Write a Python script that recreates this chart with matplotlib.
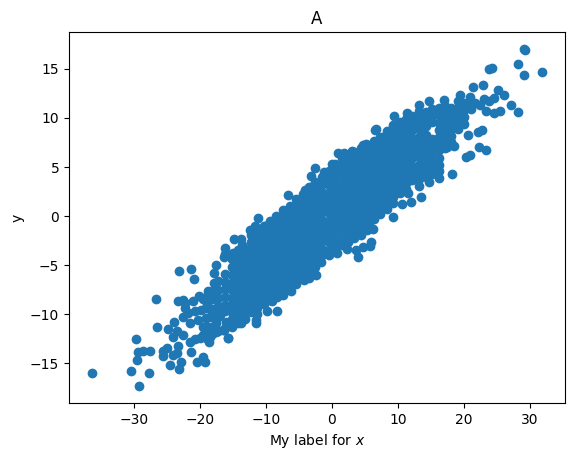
import matplotlib
matplotlib.use('Agg')
import matplotlib.pyplot as plt

# Points: lower left tail
tail_x = [-36.43, -30.44, -27.74, -29.21, -29.51, -29.7, -29.41, -28.63, -27.55, -26.67, -26.47, -23.14, -21.37, -20.88,
          -24.51, -23.14, -22.84, -25.59, -25.59, -25.0, -24.12, -23.33, -23.43, -21.37, -20.44, -19.22, -19.51, -24.8,
          -24.12, -23.43, -22.55, -23.92, -22.55, -23.33, -22.55, -22.26, -21.47, -20.69, -18.63, -19.51, -15.79, -21.47,
          -20.69, -21.08, -20.1, -18.78, -17.85, -17.85, -17.55, -16.18, -14.81, -16.18, -15.0]
tail_y = [-15.95, -15.75, -15.95, -17.3, -14.6, -12.5, -13.8, -13.7, -13.7, -8.4, -11.25, -5.55, -5.35, -6.35,
          -15.2, -15.55, -14.9, -13.7, -14.2, -13.4, -14.1, -13.2, -13.9, -13.8, -14.9, -14.9, -14.3, -11.45,
          -12.3, -11.65, -12.1, -10.75, -10.3, -8.6, -8.5, -8.8, -12.8, -12.5, -12.8, -12.1, -12.4, -10.85,
          -9.7, -8.6, -8.1, -7.6, -6.8, -5.75, -5.0, -3.2, -2.3, -3.9, -3.8]

# Extra points where the tail joins the band
join_x = [-19.5, -18.5, -17.5, -16.5, -17.5, -16.0, -20.3, -19.8, -19.0, -18.5, -17.0, -21.8, -20.0, -18.8, -22.2, -19.5]
join_y = [-11.3, -11.9, -11.8, -11.6, -10.9, -10.75, -10.6, -9.55, -8.9, -10.25, -10.05, -9.9, -12.45, -12.45, -9.4, -8.4]

# Upper and lower edge of the band
edge_x = [-6.67, -11.18, -8.44, -2.56, -3.15, -1.19, -4.08, -0.01, 0.92, 1.8, 3.03, 4.69, 5.18, 6.61, -6.67, -10.15, -11.67,
          -12.41, -13.78, -13.63, -16.38, 3.91, 5.92, 5.77, 4.69, 3.62, 2.29, 0.77, -0.45, -1.68, -2.46, -4.22, -3.49,
          -6.18, -7.41, -8.34, -9.86, -9.08, -11.53, -11.57, -13.78, -15.74, -16.38, -17.26, -18.53, 6.21]
edge_y = [2.15, -0.15, 0.05, 4.95, 4.05, 4.5, 2.7, 5.3, 6.45, 6.45, 6.65, 7.2, 7.3, 8.8, 0.6, -1.05, -0.95,
          -1.43, -2.3, -2.9, -4.2, -4.2, -2.6, -3.0, -3.1, -3.4, -3.3, -3.8, -4.0, -4.7, -5.95, -6.55, -6.25,
          -7.6, -8.0, -9.7, -9.7, -8.6, -10.55, -10.85, -10.85, -12.4, -11.55, -10.3, -12.3, -1.35]

# Upper right end
top_x = [29.29, 29.1, 28.17, 31.93, 29.1, 24.25, 23.8, 22.87, 21.35, 19.39, 25.18, 26.06, 27.14, 28.17, 25.47, 24.54,
         23.31, 24.54, 23.02, 23.8, 22.43, 20.91, 21.65, 16.94, 14.69, 13.22, 13.22, 11.36, 9.4, 6.65, 8.03, 9.4, 20.57,
         22.14, 22.73, 22.24, 23.31, 20.91, 20.28, 18.51, 17.43, 18.17, 16.21, 14.69, 13.47, 11.95, 10.57, 9.25, 11.51]
top_y = [16.9, 17.0, 15.5, 14.65, 14.35, 15.1, 14.95, 13.35, 13.2, 12.3, 12.85, 12.3, 11.3, 10.6, 10.7, 10.5,
         10.7, 12.05, 11.9, 11.7, 11.3, 12.1, 11.5, 11.8, 11.7, 11.3, 10.7, 10.5, 10.2, 8.85, 8.15, 8.75, 8.25,
         8.55, 8.75, 7.0, 6.7, 6.2, 6.0, 7.1, 7.0, 4.25, 3.85, 3.45, 2.0, 1.4, 1.2, -0.05, 2.4]

# Middle of the cloud, one column of y values for each x
body_x = [-19.1, -18.1, -17.2, -16.2, -15.2, -14.2, -13.2, -12.3, -11.3, -10.3, -9.3, -8.3, -7.4, -6.4, -5.4, -4.4,
          -3.4, -2.5, -1.5, -0.5, 0.5, 1.5, 2.4, 3.4, 4.4, 5.4, 6.4, 7.3, 8.3, 9.3, 10.3, 11.3, 12.2, 13.2, 14.2,
          15.2, 16.2, 17.1, 18.1, 19.1, 20.1, 21.1]
body_y = [
    [-8.2, -9.3, -10.4, -11.2, -12.4],
    [-7.6, -8.4, -9.5, -10.1, -11.3, -12.0],
    [-6.6, -7.5, -8.3, -9.1, -9.9, -11.7],
    [-5.9, -6.7, -7.4, -8.2, -9.0, -9.7, -11.4],
    [-4.4, -5.2, -6.0, -6.8, -7.5, -8.3, -9.0, -9.8, -10.5, -11.3],
    [-3.4, -4.2, -5.0, -5.8, -6.5, -7.2, -8.0, -8.8, -9.5, -10.2, -10.9],
    [-3.3, -4.0, -4.8, -5.5, -6.3, -7.0, -7.7, -8.5, -9.2, -9.9, -10.5],
    [-1.9, -2.6, -3.4, -4.1, -4.8, -5.6, -6.3, -7.0, -7.7, -8.4, -9.1, -9.8],
    [-1.3, -2.1, -2.8, -3.6, -4.3, -5.0, -5.7, -6.5, -7.2, -7.9, -8.6, -9.4, -10.0],
    [-1.0, -1.7, -2.4, -3.2, -3.9, -4.6, -5.3, -6.1, -6.8, -7.5, -8.2, -8.9],
    [-0.5, -1.3, -2.0, -2.7, -3.5, -4.2, -4.9, -5.6, -6.4, -7.1, -7.8, -8.5],
    [-0.4, -1.0, -1.7, -2.4, -3.1, -3.9, -4.6, -5.3, -6.0, -6.8, -7.5, -8.2],
    [0.6, -0.1, -0.8, -1.6, -2.3, -3.0, -3.7, -4.5, -5.2, -5.9, -6.6, -7.4],
    [1.0, 0.3, -0.4, -1.2, -1.9, -2.6, -3.3, -4.1, -4.8, -5.5, -6.2, -7.0],
    [1.8, 1.1, 0.4, -0.4, -1.1, -1.8, -2.5, -3.3, -4.0, -4.7, -5.4, -6.2, -6.9],
    [2.3, 1.6, 0.8, 0.1, -0.6, -1.3, -2.1, -2.8, -3.5, -4.2, -5.0, -5.7, -6.3],
    [3.0, 2.3, 1.5, 0.8, 0.1, -0.6, -1.4, -2.1, -2.8, -3.5, -4.3, -5.0, -5.7],
    [3.5, 2.8, 2.1, 1.3, 0.6, -0.1, -0.8, -1.6, -2.3, -3.0, -3.7, -4.5, -5.2],
    [4.0, 3.3, 2.5, 1.8, 1.1, 0.4, -0.4, -1.1, -1.8, -2.5, -3.3, -4.0],
    [4.6, 3.9, 3.2, 2.4, 1.7, 1.0, 0.3, -0.5, -1.2, -1.9, -2.6, -3.4],
    [5.3, 4.6, 3.9, 3.1, 2.4, 1.7, 1.0, 0.2, -0.5, -1.2, -1.9, -2.7, -3.4],
    [5.9, 5.2, 4.5, 3.7, 3.0, 2.3, 1.6, 0.8, 0.1, -0.6, -1.3, -2.1, -2.9],
    [6.2, 5.5, 4.7, 4.0, 3.3, 2.6, 1.8, 1.1, 0.4, -0.3, -1.1, -1.8, -2.6],
    [6.5, 5.8, 5.0, 4.3, 3.6, 2.9, 2.1, 1.4, 0.7, 0.0, -0.8, -1.5, -2.2],
    [6.9, 6.2, 5.5, 4.7, 4.0, 3.3, 2.6, 1.8, 1.1, 0.4, -0.3, -1.1, -1.9],
    [7.2, 6.5, 5.7, 5.0, 4.3, 3.6, 2.8, 2.1, 1.4, 0.7, -0.1, -0.8, -1.4],
    [7.7, 7.0, 6.3, 5.5, 4.8, 4.1, 3.4, 2.6, 1.9, 1.2, 0.5, -0.3],
    [8.1, 7.4, 6.6, 5.9, 5.2, 4.5, 3.7, 3.0, 2.3, 1.6, 0.8, 0.2],
    [8.7, 8.0, 7.3, 6.5, 5.8, 5.1, 4.4, 3.6, 2.9, 2.2, 1.5, 0.7],
    [9.3, 8.6, 7.8, 7.1, 6.4, 5.7, 4.9, 4.2, 3.5, 2.8, 2.0, 1.3],
    [9.6, 8.9, 8.2, 7.4, 6.7, 6.0, 5.3, 4.5, 3.8, 3.1, 2.4],
    [9.9, 9.2, 8.4, 7.7, 7.0, 6.3, 5.5, 4.8, 4.1, 3.4, 2.8],
    [10.2, 9.5, 8.8, 8.0, 7.3, 6.6, 5.9, 5.1, 4.4, 3.7],
    [10.3, 9.6, 8.9, 8.1, 7.4, 6.7, 6.0, 5.2, 4.5, 3.8, 3.1],
    [10.6, 9.9, 9.2, 8.3, 7.6, 6.9, 6.2, 5.4, 4.7, 4.0],
    [10.9, 10.2, 9.6, 7.9, 7.2, 6.5, 5.7, 5.0, 4.3],
    [11.0, 10.3, 9.5, 8.8, 8.1, 7.4, 6.7, 5.9, 5.2, 4.6],
    [11.2, 10.5, 9.8, 9.0, 8.3, 7.6, 6.9],
    [11.0, 10.3, 9.6, 8.9, 8.2, 7.6],
    [11.7, 11.0, 10.3, 9.6, 8.9],
    [11.5, 10.8, 10.1, 9.4],
    [11.6, 10.9],
]

# More points between the columns, the reference has no holes here
fill_x = [-13.7, -11.8, -9.8, -7.9, -5.9, -3.9, -2.0, 0.0, 2.0, 3.9, 5.9, 7.8, 9.8, 11.8, 13.7]
fill_y = [
    [-4.4, -5.2, -6.0, -6.8, -7.5, -8.3, -9.0],
    [-2.5, -3.2, -4.5, -5.3, -6.0, -6.7, -7.4, -8.1, -8.8],
    [-1.4, -2.1, -2.9, -3.6, -4.3, -5.0, -5.7, -6.5, -7.2, -7.9],
    [-0.5, -1.2, -2.0, -2.7, -3.5, -4.2, -4.9, -5.6, -6.4, -7.1],
    [0.6, -0.1, -0.8, -1.5, -2.3, -3.0, -3.7, -4.4, -5.2, -5.9],
    [1.9, 1.2, 0.5, -0.3, -1.0, -1.7, -2.4, -3.2, -3.9, -4.6],
    [3.0, 2.3, 1.6, 0.9, 0.2, -0.5, -1.2, -2.0, -2.7, -3.4, -4.1],
    [4.2, 3.5, 2.8, 2.1, 1.4, 0.7, 0.0, -0.8, -1.5, -2.2],
    [5.2, 4.5, 3.8, 3.1, 2.4, 1.7, 1.0, 0.3, -0.5, -1.2, -1.9],
    [6.0, 5.3, 4.6, 3.9, 3.2, 2.5, 1.7, 1.0, 0.3, -0.4, -1.1],
    [6.8, 6.1, 5.4, 4.7, 3.9, 3.2, 2.5, 1.8, 1.0, 0.3, -0.4],
    [7.7, 7.0, 6.3, 5.5, 4.8, 4.1, 3.4, 2.6, 1.9, 1.2],
    [8.9, 8.2, 7.5, 6.7, 6.0, 5.3, 4.6, 3.8, 3.1],
    [9.5, 8.8, 8.1, 7.3, 6.6, 5.9, 5.2, 4.4, 3.7],
    [9.9, 9.2, 8.5, 7.7, 7.0, 6.3, 5.6],
]

# Put all the points together
x = tail_x + join_x + edge_x + top_x
y = tail_y + join_y + edge_y + top_y
for col_x, col_y in zip(body_x + fill_x, body_y + fill_y):
    x += [col_x] * len(col_y)
    y += col_y

fig, ax = plt.subplots(figsize=(5.74, 4.59), dpi=100)
ax.scatter(x, y)
ax.set_title('A')
ax.set_xlabel('My label for $x$')
ax.set_ylabel('y')
fig.subplots_adjust(left=69 / 574, right=565 / 574, top=1 - 32.4 / 459, bottom=1 - 402.9 / 459)
fig.savefig('out.png', dpi=100)
